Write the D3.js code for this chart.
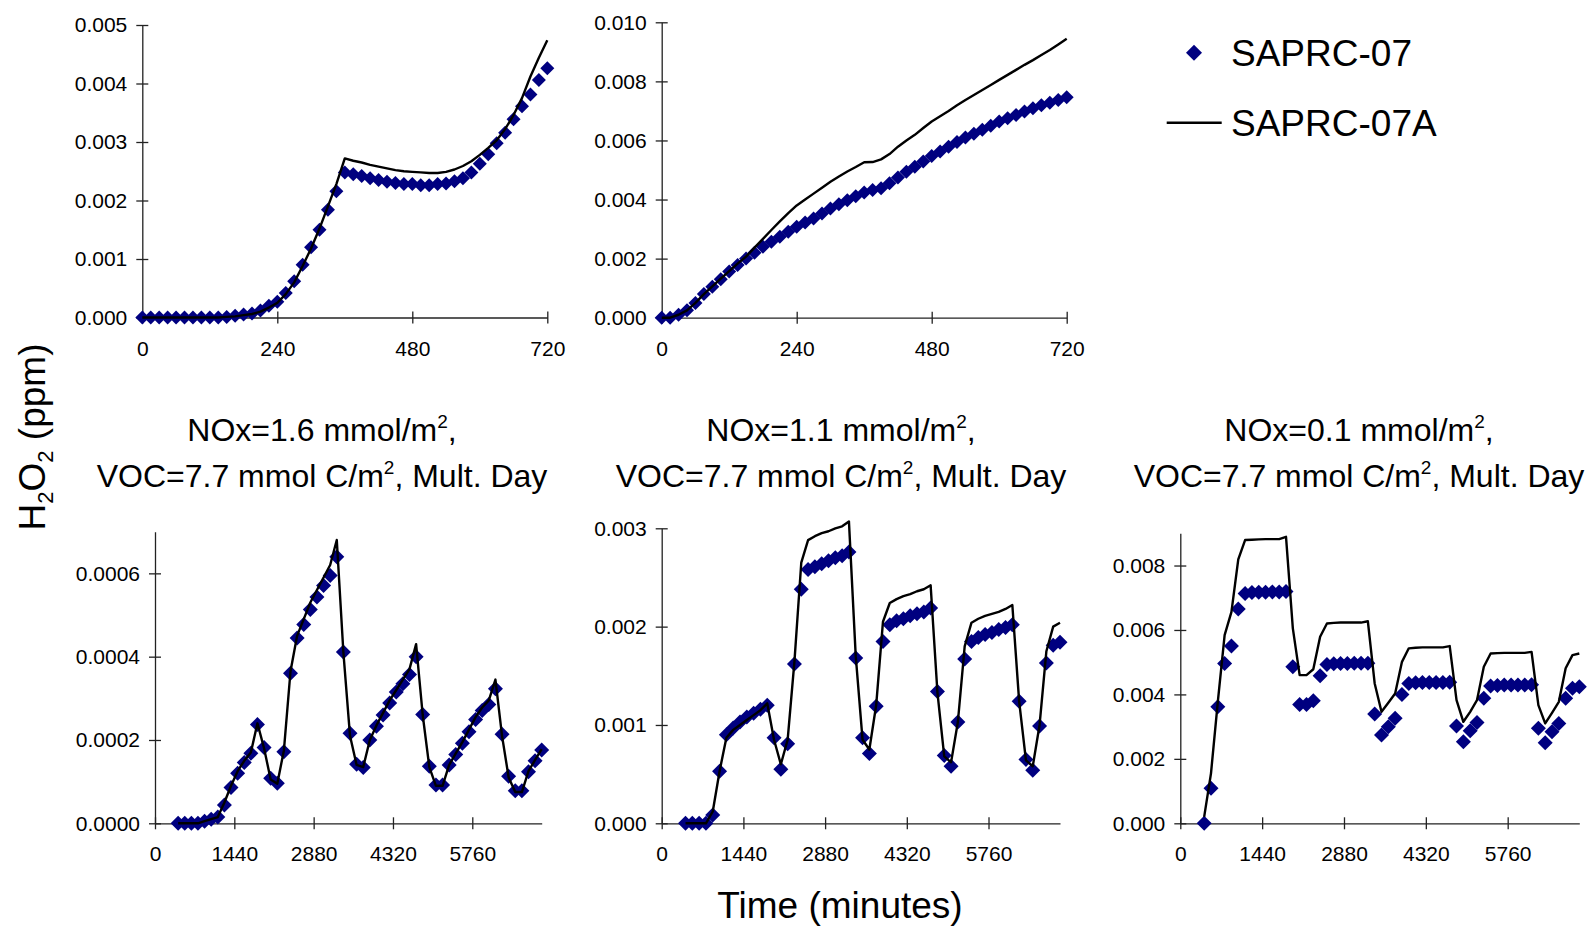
<!DOCTYPE html>
<html>
<head>
<meta charset="utf-8">
<script src="https://cdn.jsdelivr.net/npm/d3@7"></script>
<style>
  html, body { margin: 0; padding: 0; background: #fff; }
  svg { display: block; font-family: "Liberation Sans", Arial, sans-serif; }
</style>
</head>
<body>
<svg id="chart" width="1589" height="926"></svg>
<script>
(function() {
    'use strict';

    // ---- data ---------------------------------------------------------------

    // single day runs, every 15 minutes
    var dayTimes = [0, 15, 30, 45, 60, 75, 90, 105, 120, 135, 150, 165, 180, 195, 210, 225,
        240, 255, 270, 285, 300, 315, 330, 345, 360, 375, 390, 405, 420, 435, 450, 465,
        480, 495, 510, 525, 540, 555, 570, 585, 600, 615, 630, 645, 660, 675, 690, 705, 720];

    // multi day runs, every 2 hours
    var multTimes = [420, 540, 660, 780, 900, 1020, 1140, 1260, 1380, 1500, 1620, 1740,
        1860, 1980, 2100, 2220, 2340, 2460, 2580, 2700, 2820, 2940, 3060, 3180, 3300,
        3420, 3540, 3660, 3780, 3900, 4020, 4140, 4260, 4380, 4500, 4620, 4740, 4860,
        4980, 5100, 5220, 5340, 5460, 5580, 5700, 5820, 5940, 6060, 6180, 6300, 6420,
        6540, 6660, 6780, 6900, 7020];

    var seriesNames = ['SAPRC-07', 'SAPRC-07A'];

    // top left
    var tlS07 = [0, 0, 0, 0, 0, 0, 0, 0, 0, 0, 0.00001, 0.00003, 0.00005, 0.00007, 0.00012,
        0.0002, 0.00027, 0.00042, 0.00062, 0.0009, 0.0012, 0.0015, 0.00184, 0.00216, 0.00248,
        0.00245, 0.00242, 0.00238, 0.00235, 0.00232, 0.0023, 0.00228, 0.00228, 0.00226,
        0.00226, 0.00228, 0.00229, 0.00233, 0.00238, 0.00248, 0.00263, 0.00279, 0.00298,
        0.00316, 0.00339, 0.00361, 0.00381, 0.00406, 0.00426];
    var tlS07A = [0, 0, 0, 0, 0, 0, 0, 0, 0, 0, 0.00001, 0.00002, 0.00004, 0.00006, 0.0001,
        0.00017, 0.00025, 0.0004, 0.0006, 0.00088, 0.00118, 0.00152, 0.0019, 0.00228, 0.00272,
        0.00268, 0.00265, 0.00261, 0.00258, 0.00255, 0.00252, 0.0025, 0.00249, 0.00248,
        0.00247, 0.00247, 0.00249, 0.00253, 0.00259, 0.00267, 0.00278, 0.0029, 0.00303,
        0.00322, 0.00346, 0.00375, 0.00412, 0.00444, 0.00474];

    // top middle
    var tmS07 = [0, 0, 0.0001, 0.00025, 0.0005, 0.0008, 0.00105, 0.0013, 0.00156, 0.00178,
        0.002, 0.0022, 0.0024, 0.00257, 0.00274, 0.00291, 0.00308, 0.00322, 0.00336, 0.00353,
        0.0037, 0.00384, 0.00398, 0.00411, 0.00424, 0.00432, 0.00438, 0.00455, 0.00475,
        0.00494, 0.00511, 0.00529, 0.00547, 0.00563, 0.00579, 0.00595, 0.0061, 0.00623,
        0.00636, 0.0065, 0.00664, 0.00675, 0.00686, 0.00698, 0.00709, 0.00719, 0.00728,
        0.00737, 0.00746];
    var tmS07A = [0, 0, 0.0001, 0.00025, 0.0005, 0.0008, 0.00106, 0.00132, 0.00158, 0.00183,
        0.00207, 0.00237, 0.00267, 0.00297, 0.00326, 0.00354, 0.0038, 0.004, 0.0042, 0.0044,
        0.0046, 0.00478, 0.00495, 0.0051, 0.00526, 0.00527, 0.00536, 0.00554, 0.00579, 0.006,
        0.00619, 0.00642, 0.00664, 0.00682, 0.007, 0.00719, 0.00737, 0.00754, 0.00771,
        0.00788, 0.00805, 0.00822, 0.00839, 0.00856, 0.00872, 0.00889, 0.00906, 0.00925,
        0.00944];

    // NOx=1.6
    var blS07 = [0, 0, 0, 0, 0.000005, 0.00001, 0.000015, 0.000044, 0.000086, 0.00012,
        0.000146, 0.000168, 0.000237, 0.000182, 0.000108, 0.000096, 0.000172, 0.00036,
        0.000445, 0.000477, 0.000513, 0.000543, 0.000571, 0.000595, 0.00064, 0.000411,
        0.000216, 0.000142, 0.000134, 0.0002, 0.000233, 0.00026, 0.000289, 0.000315,
        0.000335, 0.000357, 0.0004, 0.000261, 0.000137, 0.000092, 0.000092, 0.00014,
        0.000165, 0.000192, 0.00022, 0.000249, 0.000271, 0.000285, 0.000323, 0.000214,
        0.000113, 0.000078, 0.000078, 0.000124, 0.00015, 0.000176];
    var blS07A = [0, 0, 0, 0, 0.000005, 0.00001, 0.000015, 0.00005, 0.00009, 0.000125,
        0.00015, 0.00017, 0.00024, 0.00018, 0.000105, 0.000095, 0.000175, 0.000365, 0.00045,
        0.00049, 0.00053, 0.00056, 0.00059, 0.00062, 0.00068, 0.00041, 0.00021, 0.00014,
        0.000135, 0.0002, 0.000235, 0.000265, 0.000295, 0.00032, 0.000345, 0.00037, 0.00043,
        0.00026, 0.000135, 0.00009, 0.00009, 0.00014, 0.000168, 0.000195, 0.000225,
        0.000255, 0.000278, 0.000295, 0.000345, 0.00021, 0.00011, 0.000075, 0.000075,
        0.000125, 0.000152, 0.000178];

    // NOx=1.1
    var bmS07 = [0, 0, 0, 0, 0.000085, 0.00053, 0.0009, 0.00097, 0.00103, 0.00108, 0.00112,
        0.00116, 0.0012, 0.00087, 0.00055, 0.00081, 0.00162, 0.00238, 0.00258, 0.00261,
        0.00264, 0.00267, 0.0027, 0.00272, 0.00276, 0.00168, 0.00087, 0.00071, 0.00119,
        0.00185, 0.00202, 0.00206, 0.00208, 0.00211, 0.00213, 0.00215, 0.00219, 0.00134,
        0.00069, 0.00058, 0.00103, 0.00167, 0.00185, 0.00189, 0.00192, 0.00194, 0.00197,
        0.00199, 0.00202, 0.00124, 0.00065, 0.00054, 0.00099, 0.00163, 0.00181, 0.00184];
    var bmS07A = [0, 0, 0, 0, 0.00012, 0.00053, 0.00087, 0.00095, 0.001, 0.00105, 0.0011,
        0.00115, 0.00122, 0.00085, 0.0006, 0.00085, 0.00165, 0.00265, 0.00288, 0.00292,
        0.00295, 0.00297, 0.003, 0.00302, 0.00307, 0.0017, 0.00085, 0.00075, 0.0012,
        0.00205, 0.00224, 0.00228, 0.00231, 0.00233, 0.00236, 0.00238, 0.00242, 0.00133,
        0.00068, 0.00062, 0.00103, 0.0018, 0.00204, 0.00208, 0.00211, 0.00213, 0.00215,
        0.00218, 0.00222, 0.00124, 0.00064, 0.00058, 0.001, 0.00175, 0.002, 0.00204];

    // NOx=0.1
    var brS07 = [0, 0.00109, 0.00362, 0.00496, 0.0055, 0.00665, 0.00713, 0.00716, 0.00717,
        0.00717, 0.00718, 0.00718, 0.00719, 0.00486, 0.00369, 0.00369, 0.0038, 0.00458,
        0.00493, 0.00495, 0.00496, 0.00496, 0.00497, 0.00497, 0.00497, 0.00339, 0.00274,
        0.003, 0.00326, 0.004, 0.00434, 0.00436, 0.00437, 0.00437, 0.00437, 0.00437, 0.00438,
        0.00302, 0.00253, 0.00287, 0.00313, 0.00388, 0.00426, 0.00428, 0.00429, 0.00429,
        0.00429, 0.00429, 0.0043, 0.00295, 0.0025, 0.00284, 0.0031, 0.00388, 0.00419, 0.00424];
    var brS07A = [0.0002, 0.00155, 0.00377, 0.00584, 0.00656, 0.00819, 0.00879, 0.0088,
        0.00881, 0.00882, 0.00882, 0.00882, 0.00889, 0.00605, 0.0046, 0.0046, 0.00478,
        0.00579, 0.0062, 0.00622, 0.00623, 0.00623, 0.00623, 0.00623, 0.00627, 0.00434,
        0.00346, 0.00374, 0.00403, 0.00501, 0.00543, 0.00545, 0.00546, 0.00546, 0.00546,
        0.00546, 0.0055, 0.00382, 0.00315, 0.00346, 0.00382, 0.00486, 0.00527, 0.00528,
        0.00529, 0.00529, 0.00529, 0.00529, 0.00532, 0.00367, 0.0031, 0.00343, 0.00377,
        0.00481, 0.00522, 0.00527];

    // ticks
    var dayTicks = [0, 240, 480, 720];
    var multTicks = [0, 1440, 2880, 4320, 5760];
    var tlYTicks = [0, 0.001, 0.002, 0.003, 0.004, 0.005];
    var tmYTicks = [0, 0.002, 0.004, 0.006, 0.008, 0.010];
    var blYTicks = [0, 0.0002, 0.0004, 0.0006];
    var bmYTicks = [0, 0.001, 0.002, 0.003];
    var brYTicks = [0, 0.002, 0.004, 0.006, 0.008];

    var titleNOx = ['1.6', '1.1', '0.1'];

    // ---- panels -------------------------------------------------------------

    var panels = [
        { t: dayTimes, a: tlS07, b: tlS07A, xMax: 720, xTicks: dayTicks, yMax: 0.005, yTicks: tlYTicks,
          fmt: '.3f', x0: 142.3, x1: 547.3, y0: 25, y1: 317.5, r: 7 },
        { t: dayTimes, a: tmS07, b: tmS07A, xMax: 720, xTicks: dayTicks, yMax: 0.010, yTicks: tmYTicks,
          fmt: '.3f', x0: 661.7, x1: 1066.7, y0: 22.3, y1: 317.7, r: 7 },
        { t: multTimes, a: blS07, b: blS07A, xMax: 7020, xTicks: multTicks, yMax: 0.0007, yTicks: blYTicks,
          fmt: '.4f', x0: 155, x1: 541.7, y0: 531.7, y1: 823.3, r: 7.5, title: titleNOx[0], tx: 322 },
        { t: multTimes, a: bmS07, b: bmS07A, xMax: 7020, xTicks: multTicks, yMax: 0.003, yTicks: bmYTicks,
          fmt: '.3f', x0: 661.7, x1: 1060, y0: 528.3, y1: 823.3, r: 7.5, title: titleNOx[1], tx: 841 },
        { t: multTimes, a: brS07, b: brS07A, xMax: 7020, xTicks: multTicks, yMax: 0.009, yTicks: brYTicks,
          fmt: '.3f', x0: 1180.3, x1: 1579.3, y0: 533.3, y1: 823.3, r: 7.5, title: titleNOx[2], tx: 1359 }
    ];

    var svg = d3.select('#chart');
    var navy = '#000080';

    function diamond(r) {
        return 'M0,' + (-r) + 'L' + r + ',0L0,' + r + 'L' + (-r) + ',0Z';
    }

    panels.forEach(function(p) {
        var x = d3.scaleLinear().domain([0, p.xMax]).range([p.x0, p.x1]);
        var y = d3.scaleLinear().domain([0, p.yMax]).range([p.y1, p.y0]);
        var g = svg.append('g');

        // y axis
        var ya = g.append('g')
            .attr('transform', 'translate(' + p.x0 + ',0)')
            .call(d3.axisLeft(y).tickValues(p.yTicks).tickFormat(d3.format(p.fmt))
                .tickSizeInner(6).tickSizeOuter(0).tickPadding(9));

        // x axis
        var xa = g.append('g')
            .attr('transform', 'translate(0,' + p.y1 + ')')
            .call(d3.axisBottom(x).tickValues(p.xTicks).tickFormat(d3.format('d'))
                .tickSizeInner(6).tickSizeOuter(0));

        [ya, xa].forEach(function(a) {
            a.attr('font-family', null).attr('font-size', 21).attr('color', '#000');
            a.select('.domain').attr('stroke', '#222').attr('stroke-width', 1.3);
            a.selectAll('.tick line').attr('stroke', '#222').attr('stroke-width', 1.3);
        });
        ya.selectAll('.tick line').attr('x1', 6);
        xa.selectAll('.tick line').attr('y1', -6);
        xa.selectAll('.tick text').attr('y', 38).attr('dy', null);

        var pts = p.t.map(function(t, i) { return { t: t, a: p.a[i], b: p.b[i] }; });

        // SAPRC-07 diamonds
        g.append('g').selectAll('path')
            .data(pts)
            .join('path')
            .attr('d', diamond(p.r))
            .attr('transform', function(d) { return 'translate(' + x(d.t) + ',' + y(d.a) + ')'; })
            .attr('fill', navy);

        // SAPRC-07A line
        g.append('path')
            .datum(pts)
            .attr('fill', 'none')
            .attr('stroke', '#000')
            .attr('stroke-width', 2.4)
            .attr('stroke-linejoin', 'round')
            .attr('d', d3.line().x(function(d) { return x(d.t); }).y(function(d) { return y(d.b); }));

        // titles of the multi day panels
        if (p.title) {
            var t1 = svg.append('text')
                .attr('x', p.tx).attr('y', 441)
                .attr('text-anchor', 'middle').attr('font-size', 32);
            t1.append('tspan').text('NOx=' + p.title + ' mmol/m');
            t1.append('tspan').attr('font-size', 19).attr('dy', -13).text('2');
            t1.append('tspan').attr('dy', 13).text(',');

            var t2 = svg.append('text')
                .attr('x', p.tx).attr('y', 487)
                .attr('text-anchor', 'middle').attr('font-size', 32);
            t2.append('tspan').text('VOC=7.7 mmol C/m');
            t2.append('tspan').attr('font-size', 19).attr('dy', -13).text('2');
            t2.append('tspan').attr('dy', 13).text(', Mult. Day');
        }
    });

    // ---- axis titles --------------------------------------------------------

    var yt = svg.append('text')
        .attr('transform', 'translate(45,437) rotate(-90)')
        .attr('text-anchor', 'middle')
        .attr('font-size', 37);
    yt.append('tspan').text('H');
    yt.append('tspan').attr('font-size', 22).attr('dy', 8).text('2');
    yt.append('tspan').attr('dy', -8).text('O');
    yt.append('tspan').attr('font-size', 22).attr('dy', 8).text('2');
    yt.append('tspan').attr('dy', -8).text(' (ppm)');

    svg.append('text')
        .attr('x', 840).attr('y', 918)
        .attr('text-anchor', 'middle')
        .attr('font-size', 37)
        .text('Time (minutes)');

    // ---- legend -------------------------------------------------------------

    var lg = svg.append('g').attr('font-size', 37);
    lg.append('path')
        .attr('d', diamond(8))
        .attr('transform', 'translate(1194,52.7)')
        .attr('fill', navy);
    lg.append('line')
        .attr('x1', 1166.7).attr('x2', 1221.7)
        .attr('y1', 122.7).attr('y2', 122.7)
        .attr('stroke', '#000').attr('stroke-width', 2.4);
    lg.selectAll('text')
        .data(seriesNames)
        .join('text')
        .attr('x', 1231)
        .attr('y', function(d, i) { return i ? 136 : 66; })
        .text(function(d) { return d; });

})();
</script>
</body>
</html>
